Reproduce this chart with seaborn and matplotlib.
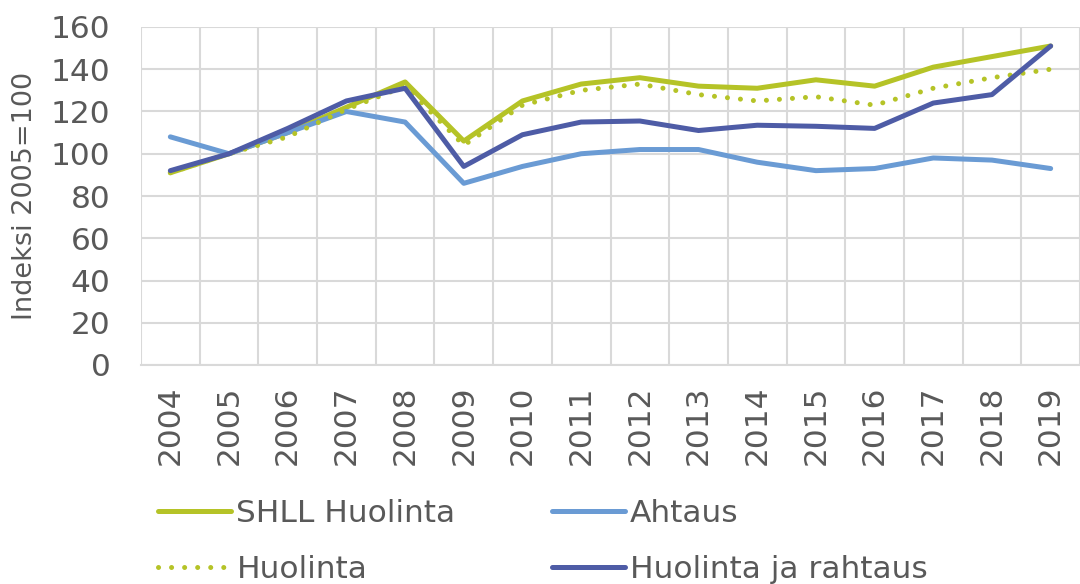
import pandas as pd
import numpy as np
import matplotlib
matplotlib.use("Agg")
import matplotlib.pyplot as plt
import seaborn as sns

years = [str(y) for y in range(2004, 2020)]

shll_huolinta = [91, 100, 110, 122, 134, 106, 125, 133, 136, 132, 131, 135, 132, 141, 146, 151]
ahtaus = [108, 100, 110, 120, 115, 86, 94, 100, 102, 102, 96, 92, 93, 98, 97, 93]
huolinta = [91, 100, 108, 121, 132, 104, 123, 130, 133, 128, 125, 127, 123, 131, 136, 140]
huolinta_rahtaus = [92, 100, 112, 125, 131, 94, 109, 115, 115.5, 111, 113.5, 113, 112, 124, 128, 151]

series_names = ["SHLL Huolinta", "Ahtaus", "Huolinta", "Huolinta ja rahtaus"]
colors = ["#B5C327", "#6A9BD4", "#B5C327", "#4E5CA6"]

df = pd.DataFrame({
    "Vuosi": years * 4,
    "Indeksi": shll_huolinta + ahtaus + huolinta + huolinta_rahtaus,
    "Sarja": np.repeat(series_names, len(years)),
})

sns.set_theme(style="white")
plt.rcParams['font.family'] = ['DejaVu Sans']
text_col = "#595959"
dots = (0, (0.01, 2.6))

fig = plt.figure(figsize=(10.8, 5.84), dpi=100)
ax = fig.add_axes([141 / 1080, 1 - 365 / 584, 939 / 1080, (365 - 27) / 584])

sns.lineplot(data=df, x="Vuosi", y="Indeksi", hue="Sarja", hue_order=series_names,
             palette=colors, linewidth=3.6, ax=ax, legend=False, sort=False)

# dotted style for Huolinta
ax.lines[2].set_linestyle(dots)
ax.lines[2].set_dash_capstyle("round")
for ln in ax.lines:
    ln.set_solid_capstyle("round")
ax.lines[3].set_zorder(5)

ax.set_xlim(-0.5, len(years) - 0.5)
ax.set_ylim(0, 160)
ax.set_yticks(range(0, 161, 20))
ax.set_xticks(range(len(years)))
ax.set_xticklabels(years, rotation=90)
ax.set_xticks(np.arange(-0.5, len(years), 1), minor=True)
ax.grid(False)
ax.grid(True, axis="y", which="major", color="#D9D9D9", linewidth=1.5)
ax.grid(True, axis="x", which="minor", color="#D9D9D9", linewidth=1.5)
ax.tick_params(axis="both", which="both", length=0, labelsize=22.5, colors=text_col)
ax.tick_params(axis="y", pad=22)
ax.tick_params(axis="x", pad=15)
for s in ["top", "right", "left"]:
    ax.spines[s].set_visible(False)
ax.spines["bottom"].set_color("#D9D9D9")
ax.spines["bottom"].set_linewidth(1.5)
ax.set_xlabel("")
ax.set_ylabel("Indeksi 2005=100", fontsize=19.5, color=text_col, labelpad=9)

# legend fills column-wise: order so rows read SHLL/Ahtaus, Huolinta/Huolinta ja rahtaus
order = [0, 2, 1, 3]
handles = [plt.Line2D([], [], color=colors[i], linewidth=3.6, solid_capstyle="round",
                      linestyle=dots if i == 2 else "-", dash_capstyle="round")
           for i in order]
fig.legend(handles, [series_names[i] for i in order], ncol=2, loc="lower left",
           bbox_to_anchor=(158 / 1080, 0.0), borderpad=0, borderaxespad=0,
           frameon=False, fontsize=22.5, handlelength=2.35, handletextpad=0.16,
           columnspacing=3.07, labelcolor=text_col, labelspacing=0.88)

fig.savefig("out.png", dpi=100)
